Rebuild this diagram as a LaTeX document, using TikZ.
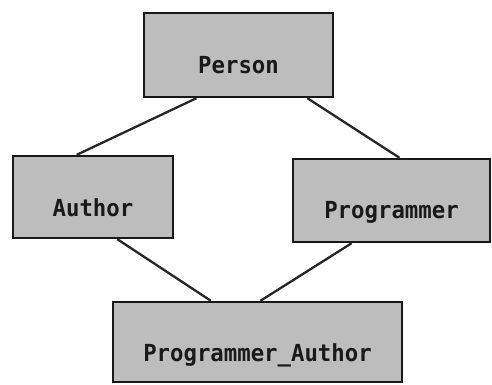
\documentclass[tikz,border=0pt]{standalone}
\usepackage{fontspec}
\newfontfamily\boxfont{DejaVu Sans Mono}[FakeStretch=0.95]
\usetikzlibrary{calc}
\begin{document}
\begin{tikzpicture}[x=1pt,y=-1pt,
  classbox/.style={draw=black!90, line width=2.4pt, fill=black!26, inner sep=0pt, rectangle},
  classname/.style={font=\boxfont\bfseries\fontsize{23.5}{27}\selectfont, text=black!90, inner sep=0pt},
  link/.style={draw=black!85, line width=2.3pt}]
  \useasboundingbox (0,0) rectangle (492,384);

  % class boxes
  \node[classbox, minimum width=189pt, minimum height=84pt] (person) at (238.5,55) {};
  \node[classbox, minimum width=160pt, minimum height=82pt] (author) at (93,197) {};
  \node[classbox, minimum width=197pt, minimum height=83pt] (prog) at (391.5,200.5) {};
  \node[classbox, minimum width=289pt, minimum height=80pt] (pa) at (257.5,342) {};

  % class names, set a little below the box centres
  \node[classname] (personname) at ([yshift=-10pt]person.center) {Person};
  \node[classname] (authorname) at ([yshift=-11pt]author.center) {Author};
  \node[classname] (progname) at ([yshift=-12pt]prog.center) {Programmer};
  \node[classname] (paname) at ([yshift=-13pt]pa.center) {Programmer\_Author};

  % inheritance links
  \draw[link] ($(person.south west)!0.28!(person.south east)$) -- ($(author.north west)!0.40!(author.north east)$);
  \draw[link] ($(person.south west)!0.86!(person.south east)$) -- ($(prog.north west)!0.54!(prog.north east)$);
  \draw[link] ($(author.south west)!0.65!(author.south east)$) -- ($(pa.north west)!0.34!(pa.north east)$);
  \draw[link] ($(prog.south west)!0.30!(prog.south east)$) -- ($(pa.north west)!0.51!(pa.north east)$);
\end{tikzpicture}
\end{document}
